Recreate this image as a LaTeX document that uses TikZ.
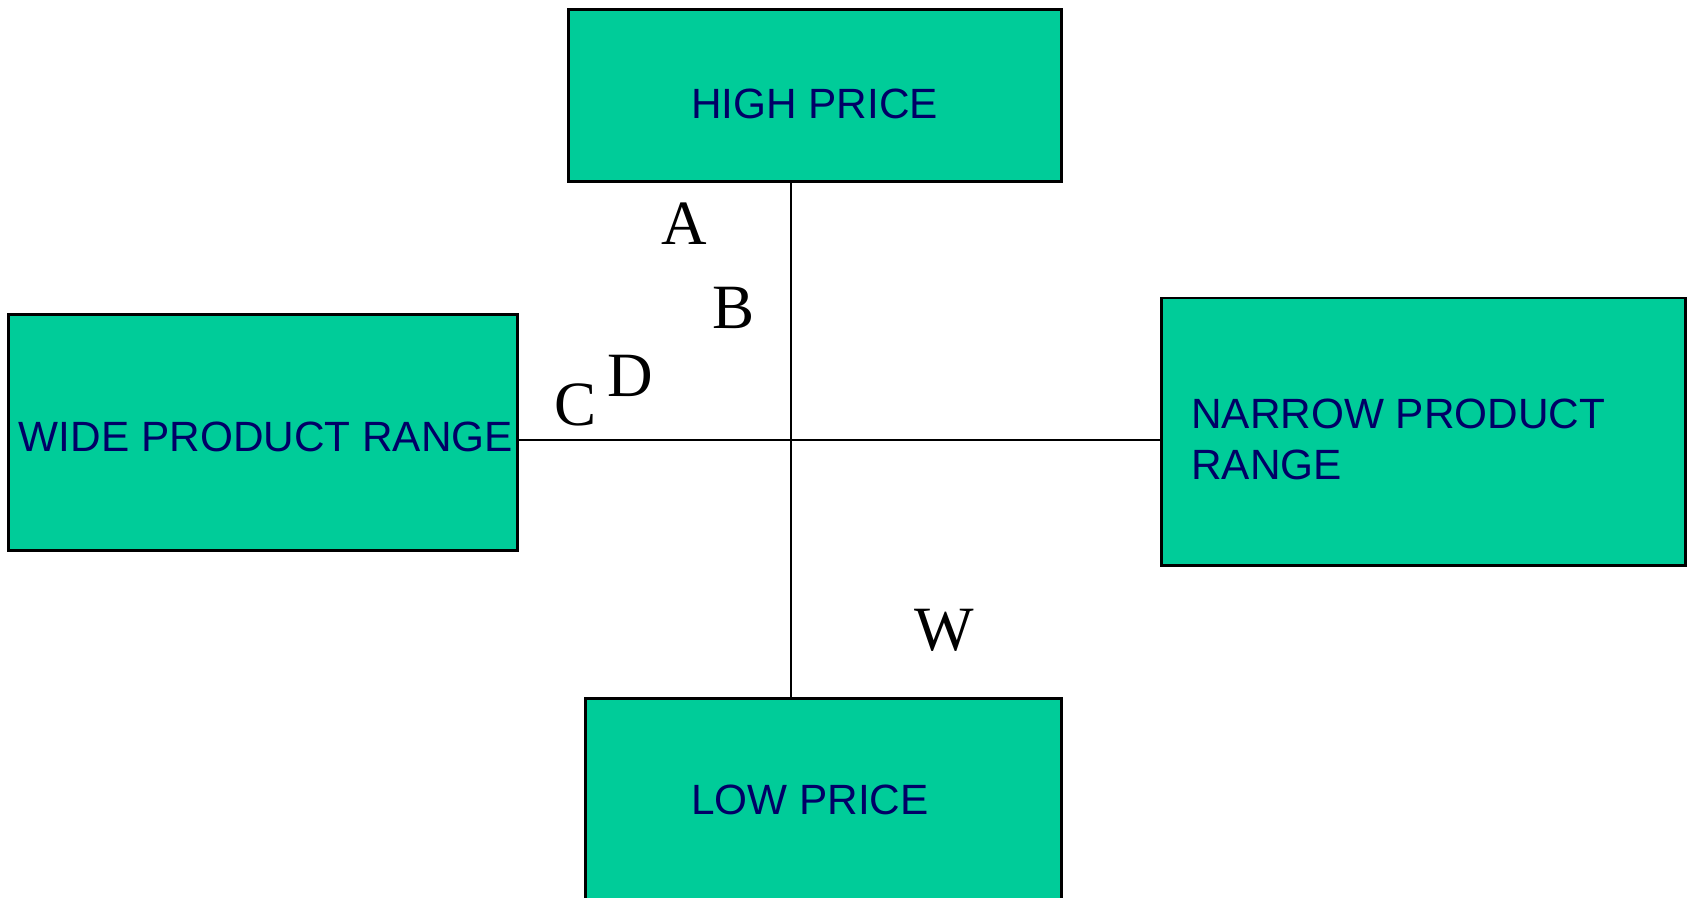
\documentclass[tikz,border=0pt]{standalone}
\usepackage{fontspec}
\setmainfont{Liberation Serif}
\newfontfamily\boxfont{Liberation Sans}
\usetikzlibrary{positioning}
\definecolor{boxgreen}{HTML}{00CC99}
\definecolor{textnavy}{HTML}{000066}
\tikzset{
  quadbox/.style={draw=black,fill=boxgreen,line width=0.06cm,inner sep=0pt},
  boxsize/.style 2 args={minimum width=#1*0.02cm,minimum height=#2*0.02cm},
  boxtext/.style={textnavy,inner sep=0pt,align=left,font=\boxfont\fontsize{24.1}{28.9}\selectfont},
  axisline/.style={line width=0.04cm,black},
  pointlabel/.style={inner sep=0pt,anchor=base,font=\fontsize{35.9}{36}\selectfont}
}

\begin{document}
\begin{tikzpicture}[x=0.02cm,y=-0.02cm]
  \useasboundingbox (0,0) rectangle (1692,898);
  \clip (0,0) rectangle (1692,898);
  % the four poles
  \node[quadbox,boxsize={493}{172.5}] (high) at (814.5,95.75) {};
  \node[quadbox,boxsize={508.5}{235.5}] (wide) at (262.75,432.25) {};
  \node[quadbox,boxsize={524}{267}] (narrow) at (1423,431.5) {};
  \node[quadbox,boxsize={476}{217}] (low) at (823,806.5) {};
  \node[boxtext,anchor=base] at (814.5,118.6) {HIGH PRICE};
  \node[boxtext,anchor=base] at (266,451.7) {WIDE PRODUCT RANGE};
  \node[boxtext,anchor=west] at (1191,439.5) {NARROW PRODUCT\\RANGE};
  \node[boxtext,anchor=base] at (810,814.6) {LOW PRICE};
  % axes
  \coordinate (cross) at (791,439.5);
  \draw[axisline] (high.south -| cross) -- (low.north -| cross);
  \draw[axisline] (wide.east |- cross) -- (narrow.west |- cross);
  % positions
  \node[pointlabel] (A) at (684.7,245) {A};
  \node[pointlabel] (B) at (734,328.3) {B};
  \node[pointlabel] (C) at (576,425.5) {C};
  \node[pointlabel] (D) at (630.5,396) {D};
  \node[pointlabel] (W) at (944,650) {W};
\end{tikzpicture}
\end{document}
